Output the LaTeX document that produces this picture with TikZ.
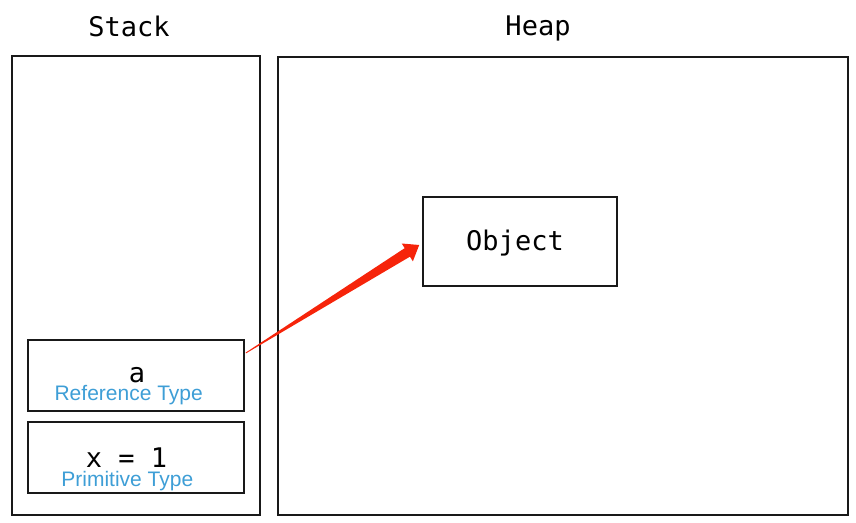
\documentclass[tikz,border=0pt]{standalone}
\usepackage{fontspec}
\setmonofont{DejaVu Sans Mono}
\newfontfamily\labelfont{Liberation Sans}
\usetikzlibrary{calc}
\definecolor{typeblue}{RGB}{62,158,214}
\definecolor{arrowred}{RGB}{246,36,10}

\begin{document}
\begin{tikzpicture}[x=1pt,y=-1pt,
    box/.style={draw=black!90,line width=1.6pt,inner sep=0pt},
    mono/.style={font=\ttfamily\fontsize{27}{27}\selectfont,anchor=base,inner sep=0pt},
    typelabel/.style={font=\labelfont\fontsize{21}{21}\selectfont,text=typeblue,anchor=base,inner sep=0pt}]
        \useasboundingbox (0,0) rectangle (856,522);

        \node[box,minimum width=248,minimum height=459](stack)at(136,285.5){};
        \node[box,minimum width=570,minimum height=458](heap)at(563,286){};
        \node[mono](stacktitle)at(129,36){Stack};
        \node[mono](heaptitle)at(538,35){Heap};

        \node[box,minimum width=194,minimum height=89](obj)at(520,241.5){};
        \node[mono](objtext)at(515,250.5){Object};

        \node[box,minimum width=216,minimum height=71](ra)at(136,375.5){};
        \node[mono,text depth=0pt](ratext)at(137,382){a};
        \node[typelabel,text height=15pt](ralabel)at(128.7,400){Reference Type};

        \node[box,minimum width=216,minimum height=71](pa)at(136,457.5){};
        \node[mono,text depth=0pt](patext)at(126.5,467){x = 1};
        \node[typelabel,text height=15pt](palabel)at(127.3,486.5){Primitive Type};

        % tapered pointer from a to the object
        \coordinate (tail) at ([xshift=1pt,yshift=22.5pt]ra.east);
        \coordinate (tip) at ([xshift=-3pt,yshift=-3.5pt]obj.west);
        \coordinate (base) at ($(tip)!14pt!(tail)$);
        \fill[arrowred]($(tail)!0.4pt!90:(tip)$)--($(base)!5pt!90:(tip)$)--($(base)!10.5pt!90:(tip)$)--(tip)
            --($(base)!10.5pt!-90:(tip)$)--($(base)!5pt!-90:(tip)$)--($(tail)!0.4pt!-90:(tip)$)--cycle;
    \end{tikzpicture}
\end{document}
